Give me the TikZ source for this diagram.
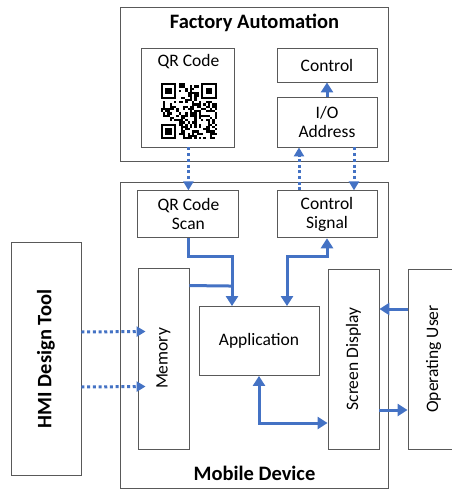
\documentclass[tikz,border=0pt]{standalone}
\usepackage{fontspec}
\setmainfont{Carlito}
\usetikzlibrary{arrows.meta,calc}
\definecolor{flowblue}{HTML}{4472C4}
\definecolor{edgegray}{HTML}{595959}

\begin{document}
\begin{tikzpicture}[x=1pt,y=-1pt,
  txt/.style={font=\fontsize{17.5}{19}\selectfont},
  box/.style={draw=edgegray,line width=0.9pt,fill=white,inner sep=0pt,align=center,txt},
  head/.style={font=\bfseries\fontsize{20.5}{22}\selectfont},
  link/.style={draw=flowblue,line width=3pt,-{Triangle[width=12pt,length=10pt]}},
  both/.style={link,{Triangle[width=12pt,length=10pt]}-{Triangle[width=12pt,length=10pt]}},
  wire/.style={draw=flowblue,line width=3pt},
  dots/.style={draw=flowblue,line width=3pt,dash pattern=on 3pt off 2.7pt,-{Triangle[width=10pt,length=9pt]}}]
  \clip (0,0) rectangle (452,491);

  % factory side
  \node[box,minimum width=268pt,minimum height=154pt,
        label={[head,anchor=north,yshift=-4pt]north:Factory Automation}] (fa) at (254.5,84) {};
  \node[box,minimum width=93pt,minimum height=99pt,
        label={[txt,anchor=north,yshift=-3pt]north:QR Code}] (qr) at (188.4,97.5) {};
  \node[box,minimum width=100pt,minimum height=34pt] (ctrl) at (327,65) {Control};
  \node[box,minimum width=100pt,minimum height=50pt] (io) at (327,122) {I/O\\Address};

  % qr pattern
  \begin{scope}[shift={(160.5,83)}]
    \pgfmathsetseed{42}
    \foreach \i in {0,...,24}{
      \foreach \j in {0,...,24}{
        \pgfmathparse{rnd}
        \ifdim\pgfmathresult pt<0.5pt \fill (\i*2.25,\j*2.25) rectangle ++(2.25,2.25);\fi
      }
    }
    \foreach \fx/\fy/\sx/\sy in {0/0/0/0, 40.5/0/38.25/0, 0/40.5/0/38.25}{
      \fill[white] (\sx,\sy) rectangle ++(18,18);
      \fill (\fx,\fy) rectangle ++(15.75,15.75);
      \fill[white] (\fx+2.25,\fy+2.25) rectangle ++(11.25,11.25);
      \fill (\fx+4.5,\fy+4.5) rectangle ++(6.75,6.75);
    }
  \end{scope}

  % mobile side
  \node[box,minimum width=268pt,minimum height=306pt,
        label={[head,anchor=south,yshift=4pt]south:Mobile Device}] (md) at (254.5,335) {};
  \node[box,minimum width=101pt,minimum height=47pt] (scan) at (188.4,214.3) {QR Code\\Scan};
  \node[box,minimum width=100pt,minimum height=47pt] (csig) at (327,214.3) {Control\\Signal};
  \node[box,minimum width=51pt,minimum height=181pt] (mem) at (163.5,358.5) {\rotatebox{90}{Memory}};
  \node[box,minimum width=120pt,minimum height=69pt] (app) at (259,341) {Application};
  \node[box,minimum width=51pt,minimum height=180pt] (scr) at (353.5,359) {\rotatebox{90}{Screen Display}};

  % outside
  \node[box,minimum width=51pt,minimum height=180pt] (user) at (433.5,359) {\rotatebox{90}{Operating User}};
  \node[box,minimum width=70pt,minimum height=233pt] (hmi) at (46,359) {\rotatebox{90}{\bfseries\fontsize{20.5}{22}\selectfont HMI Design Tool}};

  % dotted links
  \draw[dots] (qr.south) -- (scan.north);
  \draw[dots] ([xshift=-28pt]csig.north) -- ([xshift=-28pt]io.south);
  \draw[dots] ([xshift=27pt]io.south) -- ([xshift=27pt]csig.north);
  \draw[dots] ([yshift=27pt]hmi.east) -- ([xshift=8pt,yshift=27pt]mem.west);
  \draw[dots] ([yshift=-28pt]hmi.east) -- ([xshift=8pt,yshift=-28pt]mem.west);

  % solid links
  \draw[link] (io.north) -- (ctrl.south);
  \coordinate (merge) at ([xshift=-27pt,yshift=20pt]app.north);
  \draw[link] (scan.south) -- ++(0,18) -| ([xshift=-27pt]app.north);
  \draw[wire] ([yshift=-18pt]mem.north east) -- ([xshift=1.5pt]merge);
  \draw[both] ([xshift=28pt]app.north) -- ++(0,-50) -| (csig.south);
  \draw[both] (app.south) |- ([yshift=-64pt]scr.west);
  \draw[link] ([yshift=50pt]user.west) -- ([yshift=50pt]scr.east);
  \draw[link] ([yshift=-51pt]scr.east) -- ([yshift=-51pt]user.west);
\end{tikzpicture}
\end{document}
